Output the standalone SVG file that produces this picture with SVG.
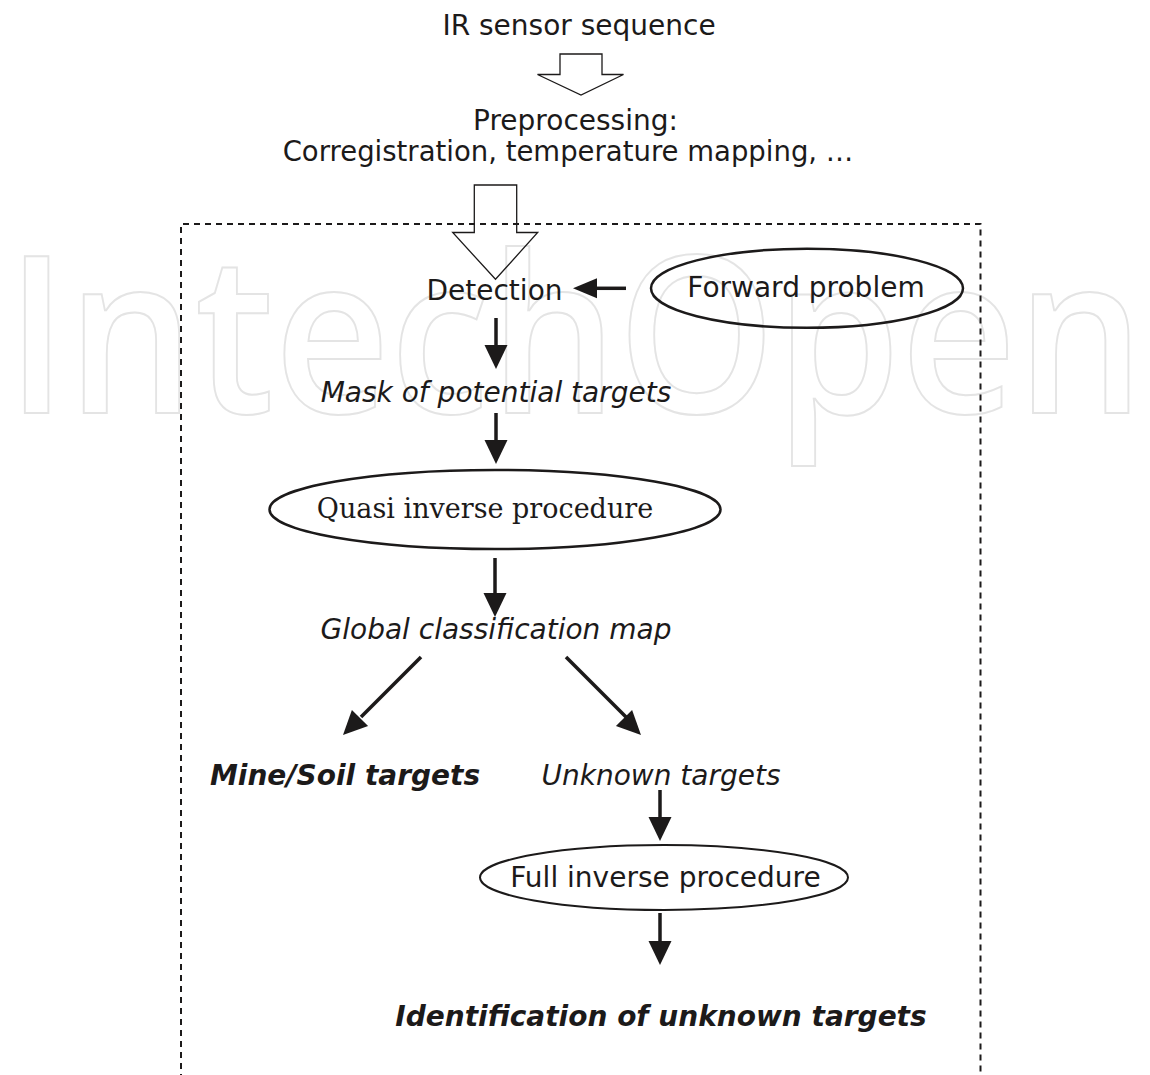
<svg xmlns="http://www.w3.org/2000/svg" width="1150" height="1075" viewBox="0 0 1150 1075">
  <style>
    .t { font-family: "DejaVu Sans", "Liberation Sans", sans-serif; font-size: 28px; fill: #1c1a1a; text-anchor: middle; }
    .it { font-style: italic; }
    .bi { font-style: italic; font-weight: bold; }
    .serif { font-family: "DejaVu Serif", "Liberation Serif", serif; font-size: 27px; }
    .hollow { fill: none; stroke: #1c1a1a; stroke-width: 1.3; stroke-linejoin: miter; }
    .node { fill: none; stroke: #1c1a1a; stroke-width: 2.5; }
    .shaft { stroke: #1c1a1a; stroke-width: 3.5; fill: none; }
    .head { fill: #1c1a1a; stroke: none; }
    .frame { fill: none; stroke: #1c1a1a; stroke-width: 2; stroke-dasharray: 6 5; }
    .mark { font-family: "Open Sans", "DejaVu Sans", sans-serif; font-weight: 600; font-size: 220px; fill: none; stroke: #e4e4e4; stroke-width: 2; }
  </style>

  <rect width="1150" height="1075" fill="#ffffff"/>

  <!-- background wordmark -->
  <text class="mark" x="6" y="413" textLength="1138" lengthAdjust="spacingAndGlyphs">IntechOpen</text>

  <!-- dashed processing frame -->
  <path class="frame" d="M181,1080 V224 H980.5 V1080"/>

  <g id="ir-sensor">
    <text class="t" x="579" y="35">IR sensor sequence</text>
  </g>

  <g id="preprocessing">
    <text class="t" x="575.5" y="130">Preprocessing:</text>
    <text class="t" x="568" y="161" style="font-size:27.5px">Corregistration, temperature mapping, …</text>
  </g>

  <g id="detection">
    <text class="t" x="494.5" y="300">Detection</text>
  </g>

  <g id="forward-problem">
    <ellipse class="node" cx="807" cy="288.3" rx="156" ry="39.5"/>
    <text class="t" x="806" y="297">Forward problem</text>
  </g>

  <g id="mask">
    <text class="t it" x="496" y="402">Mask of potential targets</text>
  </g>

  <g id="quasi-inverse">
    <ellipse class="node" cx="495" cy="509.5" rx="225.5" ry="39.5"/>
    <text class="t serif" x="485" y="518">Quasi inverse procedure</text>
  </g>

  <g id="global-map">
    <text class="t it" x="496" y="639">Global classification map</text>
  </g>

  <g id="mine-soil">
    <text class="t bi" x="345" y="785">Mine/Soil targets</text>
  </g>

  <g id="unknown">
    <text class="t it" x="661" y="785">Unknown targets</text>
  </g>

  <g id="full-inverse">
    <ellipse class="node" cx="664" cy="877.5" rx="184" ry="32.5" style="stroke-width:2"/>
    <text class="t" x="665.5" y="887">Full inverse procedure</text>
  </g>

  <g id="identification">
    <text class="t bi" x="661" y="1026">Identification of unknown targets</text>
  </g>

  <g id="connectors">
    <!-- hollow block arrows -->
    <polygon class="hollow" points="560,54 602,54 602,74.5 623.5,74.5 581,95 537.5,74.5 560,74.5"/>
    <polygon class="hollow" points="474.3,185 516.7,185 516.7,232.5 537.7,232.5 495.5,279.3 452.7,232.5 474.3,232.5"/>

    <!-- forward problem to detection -->
    <line class="shaft" x1="626" y1="288.3" x2="595" y2="288.3"/>
    <polygon class="head" points="597,278.3 597,298.3 573,288.3"/>

    <!-- detection to mask -->
    <line class="shaft" x1="496" y1="318" x2="496" y2="347"/>
    <polygon class="head" points="484.5,345 507.5,345 496,369"/>

    <!-- mask to quasi inverse -->
    <line class="shaft" x1="496" y1="413" x2="496" y2="442"/>
    <polygon class="head" points="484.5,440 507.5,440 496,464"/>

    <!-- quasi inverse to global map -->
    <line class="shaft" x1="495" y1="558" x2="495" y2="595"/>
    <polygon class="head" points="483.5,593 506.5,593 495,617"/>

    <!-- global map to mine/soil -->
    <line class="shaft" x1="421" y1="657" x2="361" y2="717"/>
    <polygon class="head" points="368.1,726.1 351.9,709.9 343,735"/>

    <!-- global map to unknown -->
    <line class="shaft" x1="566" y1="657" x2="626" y2="717"/>
    <polygon class="head" points="632.1,709.9 615.9,726.1 641,735"/>

    <!-- unknown to full inverse -->
    <line class="shaft" x1="660" y1="790" x2="660" y2="819"/>
    <polygon class="head" points="648.5,817 671.5,817 660,841"/>

    <!-- full inverse to identification -->
    <line class="shaft" x1="660" y1="913" x2="660" y2="943"/>
    <polygon class="head" points="648.5,941 671.5,941 660,965"/>
  </g>
</svg>
